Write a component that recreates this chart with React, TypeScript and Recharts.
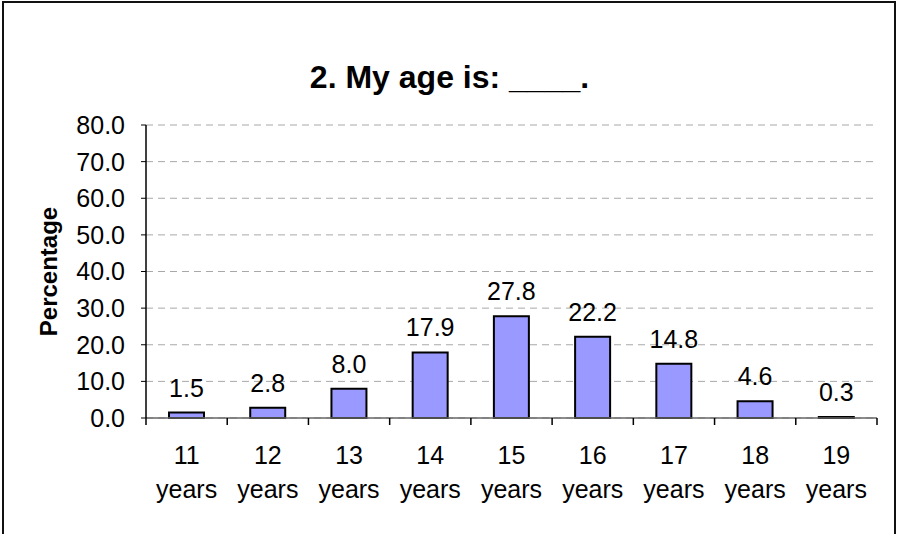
import { BarChart, Bar, XAxis, YAxis, CartesianGrid, LabelList } from "recharts";

const ages = ["11", "12", "13", "14", "15", "16", "17", "18", "19"];
const percentages = [1.5, 2.8, 8.0, 17.9, 27.8, 22.2, 14.8, 4.6, 0.3];
const yTicks = [0, 10, 20, 30, 40, 50, 60, 70, 80];

const chartWidth = 899;
const chartHeight = 534;
const margin = { top: 125, right: 22, bottom: 16, left: 0 };
const yAxisWidth = 146;
const xAxisHeight = 100;
const band = (chartWidth - margin.left - margin.right - yAxisWidth) / ages.length;

const font = '"Liberation Sans", Arial, sans-serif';

const data = ages.map((age, i) => ({ age, value: percentages[i] }));

function AgeTick(props: any) {
  const { x, y, payload, index } = props;
  const half = band / 2;
  return (
    <g>
      <line x1={x - half} y1={y} x2={x - half} y2={y + 7} stroke="#000" strokeWidth={1.5} />
      {index === ages.length - 1 && (
        <line x1={x + half} y1={y} x2={x + half} y2={y + 7} stroke="#000" strokeWidth={1.5} />
      )}
      <text x={x} y={y + 46} textAnchor="middle" fontSize={25} fill="#000" fontFamily={font}>
        {payload.value}
      </text>
      <text x={x} y={y + 80} textAnchor="middle" fontSize={25} fill="#000" fontFamily={font}>
        years
      </text>
    </g>
  );
}

function YLabel(props: any) {
  const { viewBox } = props;
  const cx = viewBox.x + 48;
  const cy = viewBox.y + viewBox.height / 2;
  return (
    <text
      x={cx}
      y={cy}
      transform={`rotate(-90, ${cx}, ${cy})`}
      textAnchor="middle"
      dominantBaseline="central"
      fontSize={24}
      fontWeight="bold"
      fill="#000"
      fontFamily={font}
    >
      Percentage
    </text>
  );
}

export default function App() {
  return (
    <div
      style={{
        position: "absolute",
        left: 0,
        top: 0,
        width: chartWidth,
        height: chartHeight,
        overflow: "hidden",
        background: "#fff",
        fontFamily: font,
      }}
    >
      <div
        style={{
          position: "absolute",
          left: 2,
          top: 1,
          width: 894,
          height: 700,
          border: "2px solid #111",
          boxSizing: "border-box",
        }}
      />
      <div
        style={{
          position: "absolute",
          left: 0,
          top: 61,
          width: chartWidth,
          textAlign: "center",
          fontSize: 32,
          lineHeight: "32px",
          fontWeight: "bold",
          color: "#000",
        }}
      >
        2. My age is: ____.
      </div>
      <BarChart width={chartWidth} height={chartHeight} data={data} margin={margin}>
        <CartesianGrid vertical={false} stroke="#a8a8a8" strokeDasharray="7 5" />
        <XAxis
          dataKey="age"
          interval={0}
          height={xAxisHeight}
          tickSize={0}
          tickMargin={0}
          tickLine={false}
          axisLine={{ stroke: "#666", strokeWidth: 1.5 }}
          tick={<AgeTick />}
        />
        <YAxis
          width={yAxisWidth}
          domain={[0, 80]}
          ticks={yTicks}
          interval={0}
          tickFormatter={(v: number) => v.toFixed(1)}
          tickSize={5}
          tickMargin={16}
          axisLine={{ stroke: "#000", strokeWidth: 1.5 }}
          tickLine={{ stroke: "#000" }}
          tick={{ fontSize: 25, fill: "#000", fontFamily: font }}
          label={<YLabel />}
        />
        <Bar
          dataKey="value"
          fill="#9999FF"
          stroke="#000"
          strokeWidth={2}
          barSize={35}
          isAnimationActive={false}
        >
          <LabelList
            dataKey="value"
            position="top"
            offset={16}
            formatter={(v: any) => Number(v).toFixed(1)}
            fontSize={25}
            fill="#000"
            fontFamily={font}
          />
        </Bar>
      </BarChart>
    </div>
  );
}
